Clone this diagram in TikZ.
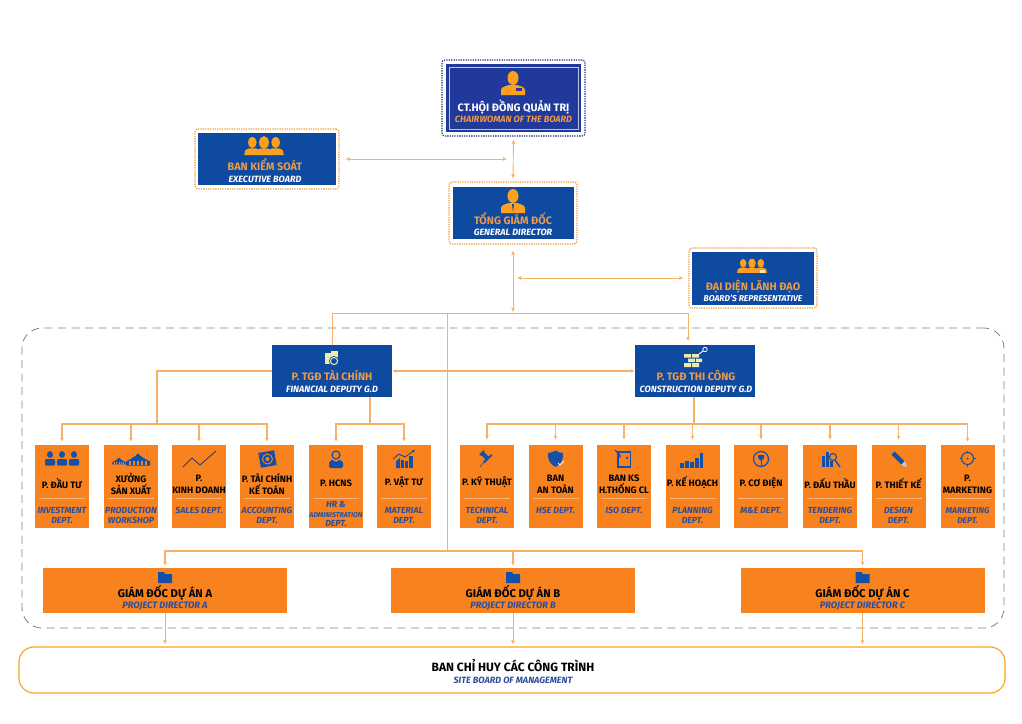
\documentclass[tikz,border=0pt]{standalone}
\usepackage{fontspec}
\setmainfont{Fira Sans}
\usepackage{xcolor}
\usetikzlibrary{positioning,calc,arrows.meta,arrows}
\definecolor{boardBlue}{HTML}{0F4AA1}
\definecolor{chairBlue}{HTML}{20399B}
\definecolor{chairDot}{HTML}{1B2F7E}
\definecolor{deptOrange}{HTML}{F8821E}
\definecolor{linkOrange}{HTML}{F6B26B}
\definecolor{dotOrange}{HTML}{F19A3E}
\definecolor{iconGold}{HTML}{FBA11F}
\definecolor{titleOrange}{HTML}{EE9A45}
\definecolor{deptBlue}{HTML}{2F4D9A}
\definecolor{iconBlue}{HTML}{1450A8}
\definecolor{sepOrange}{HTML}{FBB373}
\definecolor{paleGold}{HTML}{EDEBA8}
\definecolor{frameGray}{HTML}{808080}
\tikzstyle{blueBox}   =[rectangle,fill=boardBlue,inner sep=0pt]
\tikzstyle{dotFrame}  =[rectangle,draw=dotOrange,line width=1.1pt,dash pattern=on 1.3pt off 1.1pt,rounded corners=3pt,inner sep=0pt]
\tikzstyle{deptBox}   =[rectangle,fill=deptOrange,inner sep=0pt,minimum width=54pt,minimum height=83pt,
   path picture={\draw[sepOrange,line width=.7pt] ([xshift=4pt,yshift=-12pt]path picture bounding box.west) -- ([xshift=-4pt,yshift=-12pt]path picture bounding box.east);}]
\tikzstyle{projBox}   =[rectangle,fill=deptOrange,inner sep=0pt,minimum width=244pt,minimum height=45pt]
\tikzstyle{deptTitle} =[align=center,inner sep=0pt,yshift=1pt,text=black,font=\fontsize{9.3}{12}\selectfont\bfseries]
\tikzstyle{deptSub}   =[align=center,inner sep=0pt,text=deptBlue,font=\fontsize{8.8}{10.8}\selectfont\bfseries\itshape]
\tikzstyle{projTitle} =[inner sep=0pt,text height=8pt,text depth=0pt,text=black,font=\fontsize{11.2}{13}\selectfont\bfseries]
\tikzstyle{projSub}   =[inner sep=0pt,text=deptBlue,font=\fontsize{9.3}{11}\selectfont\bfseries\itshape]
\tikzstyle{headTitle} =[inner sep=0pt,text height=8pt,text depth=0pt,text=titleOrange,font=\fontsize{10.8}{13}\selectfont\bfseries]
\tikzstyle{headSub}   =[inner sep=0pt,text=white,font=\fontsize{9.1}{11}\selectfont\bfseries\itshape]
\tikzstyle{link}      =[linkOrange,line width=.9pt]
\tikzset{
  pics/personIcon/.style={code={
    \fill[pic actions] (0,-5) ellipse (5.5 and 7);
    \fill[pic actions] (-12,12) -- (-12,7) .. controls (-12,4) and (-7,3) .. (-4,2) -- (4,2) .. controls (7,3) and (12,4) .. (12,7) -- (12,12) -- cycle;
  }},
  pics/groupIcon/.style={code={
    \foreach \hx/\hr in {-13/4.8,13/4.8,0/5.4}{
      \fill[pic actions] (\hx,-4) ellipse [x radius=\hr,y radius=\hr*1.3];
      \fill[pic actions] (\hx-9,10) -- (\hx-8,5) .. controls (\hx-6,3) and (\hx-4,3) .. (\hx-3,2.5) -- (\hx+3,2.5) .. controls (\hx+4,3) and (\hx+6,3) .. (\hx+8,5) -- (\hx+9,10) -- cycle;
    }
  }},
  pics/smallPerson/.style={code={
    \fill[iconBlue] (0,-4) ellipse (3 and 3.4);
    \fill[iconBlue,rounded corners=1pt] (-5,7) -- (-5,.5) -- (5,.5) -- (5,7) -- cycle;
  }},
  pics/hutIcon/.style={code={
    \fill[iconBlue] (-12,6) -- (12,6) -- (12,2) .. controls (6,-1) and (3,-3) .. (0,-6) .. controls (-3,-3) and (-6,-1) .. (-12,2) -- cycle;
    \foreach \wx in {-8,-4,0,4,8}
      \fill[deptOrange] (\wx-.7,1.5) rectangle (\wx+.7,5);
  }},
  pics/barsIcon/.style={code={
    \fill[iconBlue] (-11,8) rectangle (-7.4,3);
    \fill[iconBlue] (-6,8) rectangle (-2.4,1);
    \fill[iconBlue] (-1,8) rectangle (2.6,2);
    \fill[iconBlue] (4,8) rectangle (7.6,-2);
    \fill[iconBlue] (9,8) rectangle (12,-7);
  }}
}
\begin{document}
\begin{tikzpicture}[x=1pt,y=-1pt,>={Latex[length=4pt,width=4pt]}]
  \useasboundingbox (0,0) rectangle (1022,723);
  \node[draw=frameGray,line width=.8pt,dash pattern=on 8pt off 5.5pt,rounded corners=20pt,minimum width=982pt,minimum height=300pt,inner sep=0pt] (groupFrame) at (513,478) {};

  % board and management
  \node[dotFrame,draw=chairDot,minimum width=143pt,minimum height=76pt] (chairFrame) at (513.5,98) {};
  \node[rectangle,fill=chairBlue,minimum width=135pt,minimum height=68pt,inner sep=0pt] (chairBox) at (513.5,98) {};
  \node[rectangle,draw=white!70!chairBlue,line width=.6pt,minimum width=129pt,minimum height=62pt,inner sep=0pt] (chairLine) at (513.5,98) {};
  \pic[fill=iconGold] at (513,83) {personIcon};
  \fill[chairBlue] (516,88) rectangle (522,91);
  \node[headTitle,text=white] (chairTitle) at (513.5,107) {CT.HỘI ĐỒNG QUẢN TRỊ};
  \node[headSub,text=titleOrange] (chairSub) at (513.5,119) {CHAIRWOMAN OF THE BOARD};

  \node[dotFrame,minimum width=144pt,minimum height=60pt] (bksFrame) at (267,159) {};
  \node[blueBox,minimum width=138pt,minimum height=52pt] (bksBox) at (267,159) {};
  \pic[fill=iconGold,scale=.9] at (264,146) {groupIcon};
  \node[headTitle] (bksTitle) at (265,166) {BAN KIỂM SOÁT};
  \node[headSub] (bksSub) at (265,179) {EXECUTIVE BOARD};

  \node[dotFrame,minimum width=128pt,minimum height=62pt] (tgdFrame) at (513,213) {};
  \node[blueBox,minimum width=121pt,minimum height=52pt] (tgdBox) at (513,213) {};
  \pic[fill=iconGold] at (513,201) {personIcon};
  \fill[boardBlue] (512,204) -- (514,204) -- (513,212) -- cycle;
  \node[headTitle] (tgdTitle) at (513,220) {TỔNG GIÁM ĐỐC};
  \node[headSub] (tgdSub) at (513,232) {GENERAL DIRECTOR};

  \node[dotFrame,minimum width=128pt,minimum height=60pt] (repFrame) at (753,278) {};
  \node[blueBox,minimum width=122pt,minimum height=53pt] (repBox) at (753,278) {};
  \pic[fill=iconGold,scale=.68] at (752,266) {groupIcon};
  \fill[paleGold] (760,270) rectangle (765,273);
  \node[headTitle] (repTitle) at (753,286) {ĐẠI DIỆN LÃNH ĐẠO};
  \node[headSub,font=\fontsize{8.5}{11}\selectfont\bfseries\itshape] (repSub) at (753,298) {BOARD'S REPRESENTATIVE};

  % deputies
  \node[blueBox,minimum width=120pt,minimum height=52pt] (finBox) at (332,371) {};
  \fill[paleGold] (325,353) rectangle (332,364);
  \fill[paleGold] (331,351) rectangle (338,360);
  \fill[boardBlue] (334,361) circle (5);
  \draw[paleGold,line width=1pt] (334,361) circle (3.6);
  \node[headTitle] (finTitle) at (332,376) {P. TGĐ TÀI CHÍNH};
  \node[headSub] (finSub) at (332,389) {FINANCIAL DEPUTY G.D};

  \node[blueBox,minimum width=120pt,minimum height=52pt] (conBox) at (695,371) {};
  \fill[paleGold] (684,354) rectangle (691,357.5) (692,354) rectangle (699,357.5);
  \fill[paleGold] (688,358.5) rectangle (695,362) (696,358.5) rectangle (702,362);
  \fill[paleGold] (684,363) rectangle (691,367) (692,363) rectangle (699,367);
  \draw[white,line width=.9pt] (699,354) -- (703,351);
  \draw[white,line width=.8pt] (705,349.5) circle (2.2);
  \node[headTitle] (conTitle) at (696,376) {P. TGĐ THI CÔNG};
  \node[headSub] (conSub) at (696,389) {CONSTRUCTION DEPUTY G.D};

  % departments of finance
  \node[deptBox] (dauTu) at (62,486.5) {};
  \pic at (50,458.5) {smallPerson};
  \pic at (62,458.5) {smallPerson};
  \pic at (74,458.5) {smallPerson};
  \node[deptTitle] (dauTuT) at (62,484) {P. ĐẦU TƯ};
  \node[deptSub] (dauTuS) at (62,515.5) {INVESTMENT\\DEPT.};

  \node[deptBox] (xuong) at (131,486.5) {};
  \pic[scale=.55] at (119,461) {hutIcon};
  \pic at (138,459.5) {hutIcon};
  \node[deptTitle] (xuongT) at (131,485) {XƯỞNG\\SẢN XUẤT};
  \node[deptSub] (xuongS) at (131,515.5) {PRODUCTION\\WORKSHOP};

  \node[deptBox] (kinhDoanh) at (199,486.5) {};
  \draw[deptBlue!80!black,line width=.9pt] (183,467) -- (192,458) -- (200,465) -- (216,451);
  \node[deptTitle] (kinhDoanhT) at (199,485) {P.\\KINH DOANH};
  \node[deptSub] (kinhDoanhS) at (199,510) {SALES DEPT.};

  \node[deptBox] (keToan) at (267,486.5) {};
  \fill[iconBlue,rotate around={10:(267.5,459)}] (259.5,451.5) rectangle (275.5,466.5);
  \draw[deptOrange,line width=.9pt] (267.5,459) circle (5);
  \fill[deptOrange] (267.5,459) circle (2);
  \node[deptTitle] (keToanT) at (267,485) {P. TÀI CHÍNH\\KẾ TOÁN};
  \node[deptSub] (keToanS) at (267,515.5) {ACCOUNTING\\DEPT.};

  \node[deptBox] (hcns) at (336,486.5) {};
  \draw[iconBlue,line width=1.2pt] (336,455) circle (4);
  \fill[iconBlue,rounded corners=2pt] (329,468) -- (329,461) -- (334,459.5) -- (336,463) -- (338,459.5) -- (343,461) -- (343,468) -- cycle;
  \node[deptTitle] (hcnsT) at (336,484) {P. HCNS};
  \node[deptSub,font=\fontsize{8.8}{9.5}\selectfont\bfseries\itshape] (hcnsS) at (336,514) {HR \&\\{\fontsize{7}{9.5}\selectfont ADMINISTRATION}\\DEPT.};

  \node[deptBox] (vatTu) at (404,486.5) {};
  \fill[iconBlue] (396,468) -- (396,461) -- (400,458) -- (400,468) -- cycle;
  \fill[iconBlue] (401,468) rectangle (404,460);
  \fill[iconBlue] (405,468) rectangle (408,461);
  \fill[iconBlue] (409,468) rectangle (413,456);
  \draw[iconBlue!70!black,line width=.7pt,-{Latex[length=2.5pt,width=2.5pt]}] (393,459) -- (399,454) -- (405,457) -- (415,450);
  \node[deptTitle] (vatTuT) at (404,483) {P. VẬT TƯ};
  \node[deptSub] (vatTuS) at (404,515.5) {MATERIAL\\DEPT.};

  % departments of construction
  \node[deptBox] (kyThuat) at (487,486.5) {};
  \fill[iconBlue,rotate around={45:(487,458)}] (484,450) rectangle (490,452) (485,452) rectangle (489,458) (481.5,458) rectangle (492.5,460);
  \draw[iconBlue,line width=.6pt] (485,460) -- (480,467);
  \node[deptTitle] (kyThuatT) at (487,483) {P. KỸ THUẬT};
  \node[deptSub] (kyThuatS) at (487,515.5) {TECHNICAL\\DEPT.};

  \node[deptBox] (anToan) at (555.5,486.5) {};
  \fill[iconBlue] (548,453) .. controls (551,453) and (553,452) .. (555.5,450.5) .. controls (558,452) and (560,453) .. (563,453) .. controls (563.5,460) and (561,464) .. (555.5,467) .. controls (550,464) and (547.5,460) .. (548,453) -- cycle;
  \draw[white!85!deptOrange,line width=.8pt] (558,463) -- (560,465) -- (564,461);
  \node[deptTitle] (anToanT) at (555.5,485) {BAN\\AN TOÀN};
  \node[deptSub] (anToanS) at (555.5,510) {HSE DEPT.};

  \node[deptBox] (isoDept) at (624,486.5) {};
  \draw[iconBlue,line width=1.1pt] (618,452) rectangle (630.5,467);
  \draw[iconBlue,line width=1.1pt] (615,450) -- (620,455) -- (620,458);
  \fill[iconBlue] (626,457) rectangle (628,459);
  \node[deptTitle] (isoDeptT) at (624,485) {BAN KS\\H.THỐNG CL};
  \node[deptSub] (isoDeptS) at (624,510) {ISO DEPT.};

  \node[deptBox] (keHoach) at (692.5,486.5) {};
  \pic at (691,460) {barsIcon};
  \node[deptTitle] (keHoachT) at (692.5,484) {P. KẾ HOẠCH};
  \node[deptSub] (keHoachS) at (692.5,515.5) {PLANNING\\DEPT.};

  \node[deptBox] (coDien) at (761,486.5) {};
  \draw[iconBlue,line width=1.2pt] (761,459) circle (7.5);
  \fill[iconBlue] (758,455) -- (764,455) -- (764,458) -- (761,461) -- (758,458) -- cycle;
  \draw[iconBlue,line width=1pt] (761,460) -- (761,467);
  \node[deptTitle] (coDienT) at (761,484) {P. CƠ ĐIỆN};
  \node[deptSub] (coDienS) at (761,510) {M\&E DEPT.};

  \node[deptBox] (dauThau) at (830,486.5) {};
  \fill[iconBlue] (822,456) rectangle (824.5,467);
  \fill[iconBlue] (826,452) rectangle (828.5,467);
  \draw[iconBlue,line width=1.1pt] (833,457) circle (3.5);
  \draw[iconBlue,line width=1.4pt] (835,460) -- (840,467);
  \fill[iconBlue] (829.5,461) -- (833,461) -- (833,467) -- (829.5,467) -- cycle;
  \node[deptTitle] (dauThauT) at (830,484) {P. ĐẤU THẦU};
  \node[deptSub] (dauThauS) at (830,515.5) {TENDERING\\DEPT.};

  \node[deptBox] (thietKe) at (898.5,486.5) {};
  \draw[iconBlue,line width=4.5pt] (893,453) -- (903,463);
  \fill[white!70!deptBlue] (901,465) -- (905,461) -- (907,467) -- cycle;
  \node[deptTitle] (thietKeT) at (898.5,484) {P. THIẾT KẾ};
  \node[deptSub] (thietKeS) at (898.5,515.5) {DESIGN\\DEPT.};

  \node[deptBox] (marketing) at (967.5,486.5) {};
  \draw[iconBlue,line width=1.1pt] (967.5,458.5) circle (6);
  \fill[iconBlue] (967.5,458.5) circle (1);
  \draw[iconBlue,line width=1.1pt] (967.5,450.5) -- (967.5,453) (967.5,464) -- (967.5,466.5) (959.5,458.5) -- (962,458.5) (973,458.5) -- (975.5,458.5);
  \node[deptTitle] (marketingT) at (967.5,485) {P.\\MARKETING};
  \node[deptSub,font=\fontsize{8.4}{10.8}\selectfont\bfseries\itshape] (marketingS) at (967.5,515.5) {MARKETING\\DEPT.};

  % project directors
  \node[projBox] (pdA) at (165,590.5) {};
  \fill[iconBlue] (158,572) -- (164,572) -- (165,574) -- (172,574) -- (172,583) -- (158,583) -- cycle;
  \node[projTitle] (pdAT) at (165,593) {GIÁM ĐỐC DỰ ÁN A};
  \node[projSub] (pdAS) at (165,606) {PROJECT DIRECTOR A};

  \node[projBox] (pdB) at (513,590.5) {};
  \fill[iconBlue] (506,572) -- (512,572) -- (513,574) -- (520,574) -- (520,583) -- (506,583) -- cycle;
  \node[projTitle] (pdBT) at (513,593) {GIÁM ĐỐC DỰ ÁN B};
  \node[projSub] (pdBS) at (513,606) {PROJECT DIRECTOR B};

  \node[projBox] (pdC) at (862.5,590.5) {};
  \fill[iconBlue] (855.5,572) -- (861.5,572) -- (862.5,574) -- (869.5,574) -- (869.5,583) -- (855.5,583) -- cycle;
  \node[projTitle] (pdCT) at (862.5,593) {GIÁM ĐỐC DỰ ÁN C};
  \node[projSub] (pdCS) at (862.5,606) {PROJECT DIRECTOR C};

  \node[draw=iconGold,line width=1.1pt,rounded corners=15pt,minimum width=986pt,minimum height=46pt,inner sep=0pt] (siteBox) at (512,670) {};
  \node[projTitle,font=\fontsize{12}{14}\selectfont\bfseries] (siteTitle) at (513,667) {BAN CHỈ HUY CÁC CÔNG TRÌNH};
  \node[projSub,font=\fontsize{9.1}{11}\selectfont\bfseries\itshape] (siteSub) at (513,680) {SITE BOARD OF MANAGEMENT};

  % free ends and bus points
  \coordinate (bksEnd) at (507,159);
  \coordinate (tgdEnd) at (513,312);
  \coordinate (repEnd) at (517,278);
  \coordinate (topBus) at (447,313);
  \coordinate (midBus) at (447,551);
  \coordinate (conIn) at (688,345);
  \coordinate (finBus) at (157,424);
  \coordinate (finTee) at (370,424);
  \coordinate (conTee) at (694,424);

  \draw[<->,link,shorten <=3pt,shorten >=3pt] (chairFrame.south) -- (tgdFrame.north);
  \draw[<->,link,shorten <=6pt] (bksFrame.east) -- (bksEnd);
  \draw[<->,link,shorten <=6pt] (tgdFrame.south) -- (tgdEnd);
  \draw[<->,link,shorten >=5pt] (repEnd) -- (repFrame.west);
  \draw[link] (topBus) -- (midBus);
  \draw[->,link,shorten >=4pt] (finBox.north) |- (topBus -| conIn) -- (conIn);
  \draw[<->,link,line width=1.3pt] (finBox.east) -- (conBox.west);

  \draw[link,line width=1.3pt] (finBox.west) -| (finBus);
  \draw[->,link,line width=1.3pt,shorten >=3pt] (finBus) -| (dauTu.north);
  \draw[->,link,line width=1.3pt,shorten >=3pt] (finBus) -| (xuong.north);
  \draw[->,link,line width=1.3pt,shorten >=3pt] (finBus) -| (kinhDoanh.north);
  \draw[->,link,line width=1.3pt,shorten >=3pt] (finBus) -| (keToan.north);
  \draw[link,line width=1.3pt] (finBox.south -| finTee) -- (finTee);
  \draw[->,link,line width=1.3pt,shorten >=3pt] (finTee) -| (hcns.north);
  \draw[->,link,line width=1.3pt,shorten >=3pt] (finTee) -| (vatTu.north);

  \draw[link,line width=1.3pt] (conBox.south -| conTee) -- (conTee);
  \draw[->,link,line width=1.3pt,shorten >=5pt] (conTee) -| (kyThuat.north);
  \draw[->,link,line width=1.3pt,shorten >=5pt] (conTee) -| (anToan.north);
  \draw[->,link,line width=1.3pt,shorten >=5pt] (conTee) -| (isoDept.north);
  \draw[->,link,line width=1.3pt,shorten >=5pt] (conTee) -| (keHoach.north);
  \draw[->,link,line width=1.3pt,shorten >=5pt] (conTee) -| (coDien.north);
  \draw[->,link,line width=1.3pt,shorten >=5pt] (conTee) -| (dauThau.north);
  \draw[->,link,line width=1.3pt,shorten >=5pt] (conTee) -| (thietKe.north);
  \draw[->,link,line width=1.3pt,shorten >=3pt] (conTee) -| (marketing.north);

  \draw[->,link,line width=1.3pt,shorten >=2pt] (midBus) -| (pdA.north);
  \draw[->,link,line width=1.3pt,shorten >=2pt] (midBus) -| (pdB.north);
  \draw[->,link,line width=1.3pt,shorten >=2pt] (midBus) -| (pdC.north);
  \draw[->,link,shorten >=2pt] (pdA.south) -- (pdA.south |- siteBox.north);
  \draw[->,link,shorten >=2pt] (pdB.south) -- (pdB.south |- siteBox.north);
  \draw[->,link,shorten >=2pt] (pdC.south) -- (pdC.south |- siteBox.north);
\end{tikzpicture}
\end{document}
